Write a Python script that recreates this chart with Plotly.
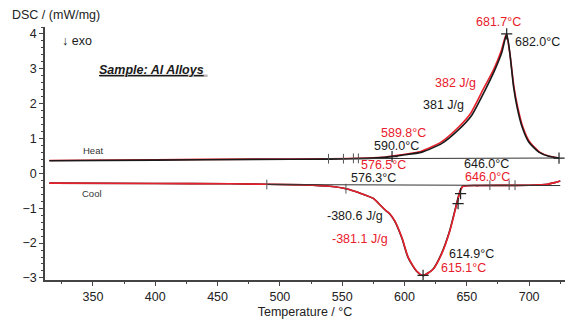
import plotly.graph_objects as go

# DSC heating / cooling runs of an Al alloy sample (two measurements each)
heat_T_black = [315, 400, 480, 540, 570, 585, 598, 614, 630, 643, 654, 664, 672.5, 678, 682.0,
                684.5, 687.5, 690.3, 694.4, 699.7, 707.8, 715.8, 724]
heat_v_black = [0.36, 0.38, 0.40, 0.41, 0.43, 0.46, 0.52, 0.61, 0.86, 1.24, 1.67, 2.34, 2.97, 3.46, 4.00,
                3.46, 2.49, 1.91, 1.33, 0.90, 0.61, 0.49, 0.44]

heat_T_red = [315, 400, 480, 540, 570, 585, 597, 613, 629, 642, 653, 663, 671.8, 677.5, 681.7,
              684.5, 687.8, 690.8, 695, 700.5, 708.5, 716.3, 723]
heat_v_red = [0.37, 0.39, 0.41, 0.42, 0.44, 0.47, 0.53, 0.63, 0.89, 1.28, 1.72, 2.40, 3.00, 3.50, 4.00,
              3.45, 2.49, 1.91, 1.33, 0.90, 0.61, 0.49, 0.45]

cool_T_red = [315, 400, 460, 520, 540, 553, 563, 575, 581, 585.5, 588, 592, 598, 603, 609.7, 615.1,
              623, 629.8, 636.5, 642, 645, 647, 660, 700, 715, 721, 725]
cool_v_red = [-0.28, -0.29, -0.30, -0.33, -0.37, -0.44, -0.55, -0.72, -0.93, -1.08, -1.15, -1.35, -1.85,
              -2.41, -2.80, -2.93, -2.75, -2.31, -1.64, -0.87, -0.48, -0.37, -0.35, -0.34, -0.31, -0.26, -0.22]

cool_T_black = [315, 400, 460, 520, 540, 553, 563, 575, 581, 585.3, 587.8, 591.8, 597.8, 602.8, 609.5, 614.9,
                622.8, 629.6, 636.3, 641.8, 644.8, 646.8, 660, 700, 715, 721, 725]
cool_v_black = cool_v_red

# integration baselines
heat_base_T = [535, 724]
heat_base_v = [0.42, 0.44]
cool_base_T = [490, 725]
cool_base_v = [-0.32, -0.35]

# evaluation marks
heat_tick_T = [539, 551, 559, 563]
heat_tick_v = [0.42, 0.42, 0.43, 0.43]
heat_cross_T = [590.0, 682.0, 724]
heat_cross_v = [0.48, 4.00, 0.44]
cool_tick_T = [489.5, 553, 668.5, 684, 688.7]
cool_tick_v = [-0.32, -0.44, -0.34, -0.34, -0.34]
cool_cross_T = [614.9, 643, 645]
cool_cross_v = [-2.93, -0.87, -0.58]

RED = "#e8202c"
BLACK = "#1a1a1a"
FONT = "Arial, Liberation Sans, sans-serif"

fig = go.Figure()

line_kw = dict(mode="lines", line_shape="spline", hoverinfo="skip", showlegend=False)

fig.add_trace(go.Scatter(x=heat_T_red, y=heat_v_red, line=dict(color=RED, width=1.6, smoothing=0.6), **line_kw))
fig.add_trace(go.Scatter(x=heat_T_black, y=heat_v_black, line=dict(color=BLACK, width=1.6, smoothing=0.6), **line_kw))
fig.add_trace(go.Scatter(x=cool_T_black, y=cool_v_black, line=dict(color=BLACK, width=1.6, smoothing=0.6), **line_kw))
fig.add_trace(go.Scatter(x=cool_T_red, y=cool_v_red, line=dict(color=RED, width=1.6, smoothing=0.6), **line_kw))

for bx, by in [(heat_base_T, heat_base_v), (cool_base_T, cool_base_v)]:
    fig.add_trace(go.Scatter(x=bx, y=by, mode="lines", line=dict(color="#333333", width=1),
                             hoverinfo="skip", showlegend=False))

for tx, ty in [(heat_tick_T, heat_tick_v), (cool_tick_T, cool_tick_v)]:
    fig.add_trace(go.Scatter(x=tx, y=ty, mode="markers",
                             marker=dict(symbol="line-ns-open", size=7, color="#555555",
                                         line=dict(color="#555555", width=1)),
                             hoverinfo="skip", showlegend=False))
for cx, cy in [(heat_cross_T, heat_cross_v), (cool_cross_T, cool_cross_v)]:
    fig.add_trace(go.Scatter(x=cx, y=cy, mode="markers",
                             marker=dict(symbol="cross-thin-open", size=8, color="#222222",
                                         line=dict(color="#222222", width=1.2)),
                             hoverinfo="skip", showlegend=False))

# value labels: (text, x, y, colour, xanchor, yshift in px)
labels = [
    ("681.7°C", 675.1, 4.00, RED, "center", 12),
    ("682.0°C", 687.1, 3.77, BLACK, "left", 0),
    ("382 J/g", 622.9, 2.59, RED, "left", 0),
    ("381 J/g", 613.3, 1.96, BLACK, "left", 0),
    ("589.8°C", 579.6, 1.13, RED, "left", 1),
    ("590.0°C", 574.0, 0.81, BLACK, "left", -1),
    ("576.5°C", 563.5, 0.24, RED, "left", 0),
    ("576.3°C", 555.5, -0.14, BLACK, "left", 0),
    ("646.0°C", 646.2, 0.27, BLACK, "left", 0),
    ("646.0°C", 647.0, -0.11, RED, "left", 0),
    ("-380.6 J/g", 536.2, -1.22, BLACK, "left", 0),
    ("-381.1 J/g", 540.2, -1.88, RED, "left", 0),
    ("614.9°C", 634.1, -2.31, BLACK, "left", 0),
    ("615.1°C", 627.7, -2.72, RED, "left", 0),
]
for txt, x, y, col, xa, ys in labels:
    fig.add_annotation(x=x, y=y, text=txt, showarrow=False, xanchor=xa, yanchor="middle", yshift=ys,
                       font=dict(family=FONT, size=12.5, color=col))

fig.add_annotation(x=350, y=0.66, text="Heat", showarrow=False,
                   font=dict(family=FONT, size=9.5, color="#333333"))
fig.add_annotation(x=349.2, y=-0.58, text="Cool", showarrow=False,
                   font=dict(family=FONT, size=9.5, color="#333333"))
fig.add_annotation(x=323.5, y=3.80, text="↓ exo", showarrow=False, xanchor="left",
                   font=dict(family=FONT, size=12.5, color=BLACK))

# sample caption, underlined, with a grey drop-shadow band under the rule
fig.add_annotation(x=396.6, y=2.97, text="<b><i><u>Sample: Al Alloys</u></i></b>", showarrow=False,
                   font=dict(family=FONT, size=12.5, color=BLACK))
fig.add_shape(type="line", x0=355.5, x1=442, y0=2.80, y1=2.80, xref="x", yref="y",
              line=dict(color="#b8b8b8", width=2.5), layer="below")

fig.add_annotation(xref="paper", yref="paper", x=-0.067, y=1.047, xanchor="left", yanchor="middle",
                   text="DSC / (mW/mg)", showarrow=False,
                   font=dict(family=FONT, size=12.5, color="#222222"))

axis_common = dict(showgrid=False, zeroline=False, showline=True, linecolor="#444444", linewidth=1.5,
                   ticks="outside", ticklen=4, tickcolor="#444444", tickwidth=1, automargin=False,
                   tickfont=dict(family=FONT, size=12.5, color="#222222"))

fig.update_xaxes(range=[311.5, 728.8], tickvals=[350, 400, 450, 500, 550, 600, 650, 700],
                 minor=dict(ticks="outside", ticklen=2, dtick=25, tick0=0, tickcolor="#444444"),
                 title=dict(text="Temperature / °C", standoff=4,
                            font=dict(family=FONT, size=12.5, color="#222222")),
                 **axis_common)
fig.update_yaxes(range=[-3.06, 4.2], tickvals=[-3, -2, -1, 0, 1, 2, 3, 4],
                 minor=dict(ticks="outside", ticklen=2, dtick=0.2, tick0=0, tickcolor="#444444"),
                 **axis_common)

fig.update_layout(width=576, height=324, margin=dict(l=45, r=11, t=27, b=44),
                  plot_bgcolor="white", paper_bgcolor="white", showlegend=False)

fig.write_html("out.html")
